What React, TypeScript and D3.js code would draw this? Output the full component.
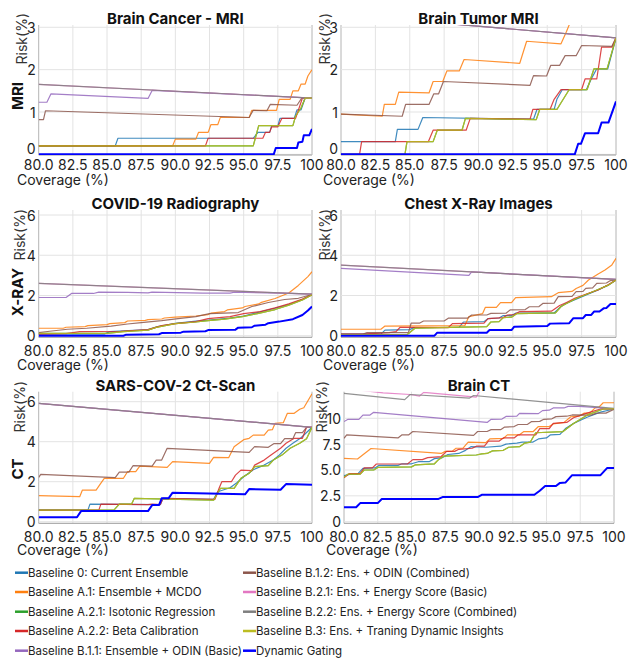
import React from "react";
import * as d3 from "d3";

type Pt = [number, number];

const seriesNames = [
  "Baseline 0: Current Ensemble",
  "Baseline A.1: Ensemble + MCDO",
  "Baseline A.2.1: Isotonic Regression",
  "Baseline A.2.2: Beta Calibration",
  "Baseline B.1.1: Ensemble + ODIN (Basic)",
  "Baseline B.1.2: Ens. + ODIN (Combined)",
  "Baseline B.2.1: Ens. + Energy Score (Basic)",
  "Baseline B.2.2: Ens. + Energy Score (Combined)",
  "Baseline B.3: Ens. + Traning Dynamic Insights",
  "Dynamic Gating",
];
const seriesColors = ["#1f77b4", "#ff7f0e", "#2ca02c", "#d62728", "#9467bd", "#8c564b", "#e377c2", "#7f7f7f", "#bcbd22", "#0000ff"];

const coverageTicks = [80, 82.5, 85, 87.5, 90, 92.5, 95, 97.5, 100];
const coverageTickLabels = ["80.0", "82.5", "85.0", "87.5", "90.0", "92.5", "95.0", "97.5", "100"];

// ---------- Brain Cancer - MRI ----------
const bcB3: Pt[] = [[80,0.2],[95.7,0.2],[96.1,0.68],[98.6,0.68],[98.8,0.9],[99.2,1.1],[99.5,1.33],[100,1.33]];
const bcGray: Pt[] = [[80,1.65],[100,1.33]];
const brainCancerMRI: Pt[][] = [
  [[80,0.2],[85.6,0.2],[85.8,0.38],[95.7,0.38],[96.05,0.52],[96.9,0.52],[97.05,0.67],[97.5,0.67],[97.65,0.85],[98.7,0.85],[98.9,1.05],[99.2,1.05],[99.5,1.33],[100,1.33]],
  [[80,0.2],[89.8,0.2],[90.0,0.36],[91.5,0.36],[91.7,0.52],[92.4,0.52],[92.6,0.7],[93.1,0.7],[93.3,0.88],[95.4,0.87],[95.6,1.04],[97.4,1.04],[97.6,1.3],[98.4,1.3],[98.6,1.5],[99.0,1.5],[99.2,1.66],[99.5,1.66],[99.7,1.85],[100,2.0]],
  bcB3,
  [[80,0.2],[92.2,0.2],[92.4,0.38],[96.4,0.38],[96.6,0.52],[96.9,0.52],[97.05,0.65],[97.5,0.65],[97.8,0.85],[98.8,0.85],[99.3,1.33],[100,1.33]],
  [[80,1.23],[80.6,1.23],[80.9,1.43],[88.0,1.32],[88.3,1.51],[100,1.33]],
  [[80,0.82],[80.35,0.82],[80.5,1.03],[95.4,0.87],[95.7,1.04],[96.7,1.03],[96.95,1.18],[98.9,1.16],[99.25,1.33],[100,1.33]],
  bcGray,
  bcGray,
  bcB3,
  [[80,0],[97.2,0],[97.35,0.15],[98.9,0.15],[99.0,0.28],[99.3,0.3],[99.4,0.45],[99.8,0.45],[100,0.6]],
];

// ---------- Brain Tumor MRI ----------
const btB3: Pt[] = [[80,0],[84.65,0],[84.8,0.3],[86.7,0.3],[87.0,0.57],[88.8,0.57],[89.05,0.85],[94.2,0.82],[94.45,1.06],[95.7,1.06],[96.6,1.53],[97.9,1.53],[98.4,2.02],[99.35,2.02],[100,2.75]];
const btGray: Pt[] = [[80,3.3],[100,2.75]];
const brainTumorMRI: Pt[][] = [
  [[80,0.3],[83.95,0.3],[84.1,0.59],[85.6,0.59],[85.95,0.87],[94.0,0.83],[94.25,1.06],[95.5,1.06],[95.7,1.3],[96.1,1.53],[97.85,1.53],[98.2,1.78],[98.6,2.02],[99.4,2.02],[100,2.75]],
  [[80,0.95],[83.0,0.9],[83.15,1.18],[83.95,1.18],[84.2,1.47],[86.4,1.45],[86.7,1.72],[87.4,1.72],[87.7,1.97],[88.6,1.97],[88.95,2.24],[93.0,2.15],[93.5,2.67],[96.0,2.61],[96.4,2.9],[96.9,3.3],[97.5,3.6],[100,4.0]],
  btB3,
  [[80,0],[81.35,0],[81.5,0.3],[86.35,0.3],[86.7,0.57],[89.1,0.57],[89.4,0.85],[93.75,0.83],[93.95,1.06],[95.2,1.06],[95.5,1.3],[96.0,1.53],[97.5,1.53],[97.75,1.78],[98.6,1.78],[98.95,2.53],[99.7,2.53],[100,2.75]],
  btGray,
  [[80,0.95],[84.45,0.9],[84.7,1.18],[86.4,1.18],[86.75,1.43],[87.1,1.43],[87.45,1.72],[93.75,1.63],[94.0,1.86],[94.95,1.85],[95.25,2.1],[95.9,2.1],[96.3,2.33],[97.1,2.33],[97.5,2.57],[99.7,2.55],[100,2.75]],
  btGray,
  btGray,
  btB3,
  [[80,0],[97.0,0],[97.25,0.25],[97.45,0.25],[97.75,0.5],[98.7,0.5],[98.95,0.75],[99.45,0.75],[100,1.25]],
];

// ---------- COVID-19 Radiography ----------
const cvB3: Pt[] = [[80,0.12],[85,0.12],[86.2,0.2],[88,0.28],[88.6,0.41],[90,0.6],[91.5,0.68],[92.4,0.75],[93.6,0.82],[94.9,0.95],[96.0,1.1],[97.3,1.3],[98.3,1.52],[99.3,1.78],[100,2.03]];
const cvGray: Pt[] = [[80,2.6],[100,2.07]];
const covidRadiography: Pt[][] = [
  [[80,0.08],[84.8,0.08],[85.2,0.2],[88.0,0.3],[88.7,0.45],[90.0,0.62],[91.5,0.72],[92.5,0.78],[94.0,0.88],[95.0,0.98],[96.0,1.15],[97.2,1.35],[98.3,1.55],[99.3,1.8],[100,2.05]],
  [[80,0.37],[81.8,0.37],[82.0,0.42],[83.4,0.45],[83.6,0.5],[85.0,0.55],[85.2,0.6],[86.3,0.65],[86.5,0.73],[87.8,0.76],[88.0,0.8],[89.0,0.83],[89.2,0.88],[90.0,0.92],[91.5,0.98],[92.4,1.05],[92.6,1.12],[93.6,1.2],[93.8,1.28],[94.9,1.38],[95.1,1.45],[96.1,1.58],[96.3,1.66],[97.3,1.85],[98.3,2.12],[99.0,2.5],[99.7,2.94],[100,3.18]],
  cvB3,
  [[80,0.08],[82.0,0.1],[83.0,0.2],[86.0,0.22],[88.0,0.3],[89.0,0.5],[90.0,0.6],[91.5,0.7],[92.4,0.85],[94.0,0.95],[95.0,1.1],[96.2,1.2],[97.3,1.38],[98.3,1.58],[99.3,1.82],[100,2.05]],
  [[80,1.9],[82.0,1.9],[82.4,2.1],[84.0,2.1],[84.4,2.17],[86.5,2.15],[88.0,2.13],[88.3,2.17],[92.0,2.12],[94.0,2.12],[94.3,2.16],[97.5,2.12],[100,2.07]],
  [[80,0.15],[80.8,0.22],[82.1,0.32],[83.5,0.37],[85.3,0.48],[86.5,0.58],[87.5,0.65],[89.0,0.75],[90.2,0.85],[91.5,0.95],[92.5,1.1],[94.6,1.15],[95.6,1.45],[96.8,1.65],[98.0,1.8],[99.0,1.86],[100,2.05]],
  cvGray,
  cvGray,
  cvB3,
  [[80,0],[86.2,0],[86.4,0.05],[88.8,0.07],[89.0,0.13],[90.4,0.15],[90.6,0.2],[92.2,0.22],[92.4,0.28],[94.4,0.3],[94.6,0.4],[95.6,0.42],[95.8,0.5],[96.6,0.55],[96.8,0.62],[97.6,0.7],[98.6,0.82],[99.3,1.03],[99.7,1.25],[100,1.45]],
];

// ---------- Chest X-Ray Images ----------
const cxB3: Pt[] = [[80,0.05],[84.8,0.05],[85.4,0.38],[90.6,0.45],[90.9,0.68],[91.5,0.7],[91.8,0.9],[92.4,0.92],[92.8,1.1],[95.6,1.13],[96.0,1.45],[96.4,1.6],[97.1,1.85],[98.0,2.1],[98.7,2.3],[99.4,2.5],[100,2.77]];
const cxGray: Pt[] = [[80,3.51],[100,2.8]];
const chestXRay: Pt[][] = [
  [[80,0.08],[82.9,0.08],[83.2,0.28],[85.0,0.3],[85.3,0.4],[88.6,0.42],[88.9,0.68],[90.4,0.7],[90.7,0.85],[91.5,0.88],[91.8,1.0],[92.4,1.0],[92.7,1.12],[95.5,1.13],[96.0,1.45],[96.4,1.62],[97.1,1.82],[98.0,2.08],[98.7,2.28],[99.4,2.5],[100,2.77]],
  [[80,0.32],[82.9,0.32],[83.2,0.48],[89.0,0.5],[89.3,0.95],[90.3,1.1],[90.5,1.41],[91.3,1.41],[91.6,1.64],[92.4,1.64],[92.7,1.89],[95.3,1.94],[95.8,2.14],[96.8,2.2],[97.1,2.35],[97.6,2.5],[98.0,2.77],[98.7,3.07],[99.2,3.27],[99.7,3.52],[100,3.85]],
  cxB3,
  [[80,0.08],[81.5,0.08],[83.5,0.15],[84.0,0.2],[84.3,0.42],[87.8,0.4],[88.1,0.6],[90.4,0.62],[90.7,0.85],[91.8,0.9],[92.1,1.03],[92.6,1.05],[93.0,1.2],[95.3,1.22],[95.9,1.5],[96.4,1.65],[97.0,1.86],[98.0,2.11],[98.7,2.27],[99.4,2.52],[100,2.77]],
  [[80,3.35],[89.3,3.0],[89.5,3.17],[100,2.8]],
  [[80,0.08],[81.6,0.08],[81.9,0.15],[84.9,0.15],[85.1,0.62],[85.7,0.62],[86.0,0.73],[87.5,0.73],[87.8,0.87],[89.2,0.87],[89.5,1.03],[90.6,1.03],[90.9,1.11],[92.0,1.12],[92.3,1.28],[93.4,1.3],[93.7,1.44],[94.4,1.45],[94.7,1.61],[95.5,1.62],[95.8,1.94],[96.8,1.95],[97.1,2.19],[97.6,2.2],[97.8,2.35],[98.3,2.38],[98.6,2.6],[99.3,2.62],[99.6,2.74],[100,2.77]],
  cxGray,
  cxGray,
  cxB3,
  [[80,0],[86.8,0],[87.0,0.15],[90.6,0.15],[90.8,0.28],[92.4,0.28],[92.6,0.45],[95.0,0.48],[95.2,0.6],[96.6,0.62],[96.9,0.87],[97.6,0.87],[97.8,1.03],[98.2,1.03],[98.4,1.2],[98.8,1.2],[99.1,1.36],[99.3,1.38],[99.6,1.58],[100,1.58]],
];

// ---------- SARS-COV-2 Ct-Scan ----------
const scB3: Pt[] = [[80,0.58],[85.5,0.58],[85.9,0.88],[86.8,0.88],[87.0,1.17],[92.8,1.08],[93.3,1.67],[94.3,1.67],[94.8,2.17],[95.4,2.42],[95.8,2.75],[96.8,2.8],[97.2,3.1],[97.8,3.33],[98.4,3.67],[99.1,3.92],[99.6,4.15],[100,4.72]];
const scGray: Pt[] = [[80,5.92],[100,4.72]];
const sarsCovCt: Pt[][] = [
  [[80,0.58],[83.6,0.58],[83.75,0.88],[88.9,0.85],[89.1,1.17],[92.8,1.12],[93.1,1.5],[94.0,1.7],[94.5,1.95],[95.0,2.25],[95.7,2.6],[96.5,2.83],[97.2,3.1],[97.6,3.33],[98.1,3.67],[98.6,3.92],[99.2,4.2],[100,4.72]],
  [[80,1.3],[83.0,1.25],[83.2,1.58],[84.2,1.58],[84.5,1.88],[84.8,2.17],[86.2,2.17],[86.5,2.5],[87.1,2.5],[87.4,2.78],[89.4,2.72],[89.8,3.0],[92.5,2.92],[92.8,3.22],[93.9,3.2],[94.3,3.75],[95.0,4.1],[95.4,4.17],[95.7,4.33],[96.5,4.33],[96.8,4.58],[97.1,4.6],[97.3,4.92],[97.9,4.95],[98.2,5.42],[98.7,5.42],[99.1,5.62],[99.4,5.7],[100,6.4]],
  scB3,
  [[80,0.58],[84.4,0.58],[84.55,0.88],[88.0,0.85],[88.3,0.88],[88.9,0.86],[89.1,1.17],[92.9,1.12],[93.2,1.67],[93.4,2.0],[94.1,2.0],[94.4,2.33],[94.8,2.58],[95.6,2.55],[95.8,2.83],[96.5,3.08],[97.0,3.33],[97.7,3.67],[98.1,3.92],[98.7,4.17],[99.3,4.17],[99.6,4.72],[100,4.72]],
  scGray,
  [[80,2.22],[80.15,2.37],[85.6,2.2],[85.9,2.48],[86.6,2.48],[86.9,2.8],[88.3,2.78],[88.6,3.08],[89.0,3.08],[89.4,3.67],[95.4,3.47],[95.8,3.75],[96.8,3.72],[97.2,3.9],[97.7,3.9],[98.0,4.15],[98.6,4.15],[98.8,4.45],[99.3,4.45],[99.6,4.72],[100,4.72]],
  scGray,
  scGray,
  scB3,
  [[80,0.22],[82.8,0.22],[83.1,0.53],[88.0,0.53],[88.3,0.83],[88.8,0.83],[89.0,1.17],[89.5,1.17],[89.8,1.45],[95.1,1.37],[95.4,1.63],[97.7,1.6],[98.1,1.88],[100,1.85]],
];

// ---------- Brain CT ----------
const ctB3: Pt[] = [[80,4.3],[80.3,4.6],[81.2,4.6],[81.5,5.0],[82.2,5.0],[82.5,5.25],[85.0,5.3],[85.3,5.5],[86.7,5.6],[87.0,6.0],[87.4,6.35],[89.8,6.45],[90.2,6.55],[90.6,6.6],[91.0,6.85],[91.8,6.9],[92.2,7.2],[93.0,7.25],[93.4,7.6],[93.8,7.7],[94.2,8.6],[96.2,8.7],[97.0,9.5],[98.0,10.3],[99.2,10.9],[100,10.9]];
const brainCT: Pt[][] = [
  [[80,4.45],[80.5,4.6],[81.0,4.6],[81.4,5.15],[82.3,5.2],[82.6,5.45],[84.0,5.45],[84.3,5.6],[85.0,5.6],[85.5,5.8],[86.3,5.8],[86.7,6.1],[87.3,6.2],[87.7,6.5],[88.5,6.6],[89.0,6.9],[89.4,7.25],[90.5,7.2],[91.6,7.3],[92.0,7.5],[92.8,7.6],[93.2,7.7],[94.0,7.7],[94.4,8.0],[95.0,8.1],[95.3,8.4],[96.0,8.45],[96.4,9.0],[97.0,9.5],[98.0,10.1],[99.0,10.6],[100,10.9]],
  [[80,6.13],[81.0,6.06],[82.0,7.08],[87.2,6.6],[87.5,6.8],[88.0,6.8],[88.3,7.1],[88.8,7.1],[89.2,7.7],[90.5,7.65],[90.8,8.0],[91.8,8.05],[92.1,8.4],[93.0,8.4],[93.3,8.7],[94.0,8.7],[94.4,9.2],[95.2,9.2],[95.5,9.45],[96.3,9.6],[96.8,10.15],[97.4,10.2],[97.8,10.5],[98.2,10.5],[98.6,11.0],[98.9,11.1],[99.2,11.5],[100,11.5]],
  ctB3,
  [[80,4.25],[80.4,4.65],[81.2,4.65],[81.5,5.2],[82.1,5.2],[82.4,5.58],[84.7,5.58],[85.1,6.0],[85.8,6.0],[86.2,6.2],[87.2,6.3],[87.6,6.8],[88.2,6.8],[88.5,7.0],[89.5,7.1],[89.8,7.3],[90.4,7.3],[90.7,7.8],[91.5,7.8],[91.8,8.1],[92.6,8.1],[92.9,8.4],[94.2,8.4],[94.5,9.0],[95.2,9.0],[95.5,9.5],[96.5,9.6],[97.0,10.05],[98.0,10.5],[99.0,10.9],[100,10.9]],
  [[80,9.68],[80.3,9.9],[81.1,9.9],[81.4,10.3],[81.9,10.3],[82.2,10.58],[90.6,9.6],[90.9,9.9],[91.7,9.92],[92.0,10.18],[92.8,10.2],[93.0,10.48],[94.4,10.45],[94.7,10.74],[95.2,10.78],[95.5,11.0],[96.3,11.0],[96.6,11.15],[97.4,11.15],[98.0,11.1],[99.0,11.0],[100,10.87]],
  [[80,8.06],[80.2,8.4],[84.0,8.1],[84.3,8.4],[84.8,8.4],[85.1,8.72],[89.6,8.35],[89.9,8.72],[90.6,8.72],[90.9,8.9],[91.6,8.9],[91.9,9.15],[92.6,9.2],[92.9,9.4],[93.6,9.42],[93.9,9.68],[94.5,9.7],[94.8,9.9],[95.4,9.95],[95.7,10.16],[96.5,10.2],[96.9,10.32],[98.3,10.3],[98.7,10.5],[99.4,10.5],[100,10.87]],
  [[80,12.9],[82.9,12.45],[84.9,12.3],[85.6,12.15],[85.9,12.5],[89.8,12.05],[90.1,12.8],[100,12.8]],
  [[80,12.4],[84.5,11.8],[84.9,12.3],[89.3,11.95],[89.6,12.2],[100,10.95]],
  ctB3,
  [[80,1.4],[80.9,1.4],[81.2,1.8],[82.5,1.8],[82.8,2.2],[87.0,2.2],[87.3,2.38],[89.9,2.38],[90.2,2.6],[94.1,2.6],[94.5,3.0],[94.9,3.45],[95.7,3.45],[96.0,3.75],[96.4,3.78],[96.9,4.5],[99.0,4.5],[99.5,5.2],[100,5.2]],
];

const yTicksSmall = [0, 1, 2, 3];
const yTicksMid = [0, 2, 4, 6];
const yTicksCT = [0, 2.5, 5, 7.5, 10];
const yTickLabelsCT = ["0", "2.5", "5.0", "7.5", "10"];

const rowNames = ["MRI", "X-RAY", "CT"];

interface PanelCfg {
  title: string;
  data: Pt[][];
  yTicks: number[];
  yLabels: string[];
  yDomain: [number, number];
  left: number; right: number;
  row: number;
  zeroLift: number;
  riskX: number;
}

const rows = [
  { top: 25, bottom: 155, tickBase: 170, covBase: 185, riskTop: 13, labelY: 96 },
  { top: 210, bottom: 337.3, tickBase: 356, covBase: 370, riskTop: 209, labelY: 292 },
  { top: 391.7, bottom: 523.3, tickBase: 541.5, covBase: 555, riskTop: 381, labelY: 469 },
];

const panels: PanelCfg[] = [
  { title: "Brain Cancer - MRI", data: brainCancerMRI, yTicks: yTicksSmall, yLabels: yTicksSmall.map(String), yDomain: [-0.015, 3.054], left: 38.7, right: 312, row: 0, zeroLift: 6, riskX: 21 },
  { title: "Brain Tumor MRI", data: brainTumorMRI, yTicks: yTicksSmall, yLabels: yTicksSmall.map(String), yDomain: [-0.015, 3.054], left: 341, right: 616, row: 0, zeroLift: 6, riskX: 324 },
  { title: "COVID-19 Radiography", data: covidRadiography, yTicks: yTicksMid, yLabels: yTicksMid.map(String), yDomain: [-0.08, 6.25], left: 38.7, right: 312, row: 1, zeroLift: 0, riskX: 19.5 },
  { title: "Chest X-Ray Images", data: chestXRay, yTicks: yTicksMid, yLabels: yTicksMid.map(String), yDomain: [-0.08, 6.25], left: 341, right: 616, row: 1, zeroLift: 0, riskX: 324 },
  { title: "SARS-COV-2 Ct-Scan", data: sarsCovCt, yTicks: yTicksMid, yLabels: yTicksMid.map(String), yDomain: [-0.08, 6.5], left: 38.7, right: 312, row: 2, zeroLift: 0, riskX: 19.5 },
  { title: "Brain CT", data: brainCT, yTicks: yTicksCT, yLabels: yTickLabelsCT, yDomain: [-0.155, 12.57], left: 344, right: 614, row: 2, zeroLift: 0, riskX: 321 },
];

const FONT = "Inter, 'Noto Sans', sans-serif";

function Panel({ p, idx }: { p: PanelCfg; idx: number }) {
  const r = rows[p.row];
  const x = d3.scaleLinear().domain([80, 100]).range([p.left, p.right]);
  const y = d3.scaleLinear().domain(p.yDomain).range([r.bottom, r.top]);
  const line = d3.line<Pt>().x((d) => x(d[0])).y((d) => y(d[1]));
  const clipId = `clip-${idx}`;
  const isLeft = p.left < 100;
  return (
    <g>
      <defs>
        <clipPath id={clipId}>
          <rect x={p.left} y={r.top} width={p.right - p.left} height={r.bottom - r.top} />
        </clipPath>
      </defs>
      {coverageTicks.map((t) => (
        <line key={"vx" + t} x1={x(t)} x2={x(t)} y1={r.top} y2={r.bottom} stroke={t === 80 || t === 100 ? "#b4b4b4" : "#e3e3e3"} strokeWidth={1} />
      ))}
      {p.yTicks.map((t) => (
        <line key={"hy" + t} x1={p.left} x2={p.right} y1={y(t)} y2={y(t)} stroke="#e3e3e3" strokeWidth={1} />
      ))}
      <line x1={p.left} x2={p.right} y1={r.bottom} y2={r.bottom} stroke="#9a9a9a" strokeWidth={1} />
      <g clipPath={`url(#${clipId})`}>
        {p.data.map((s, i) => (
          <path key={i} d={line(s) || ""} fill="none" stroke={seriesColors[i]} strokeWidth={i === 9 ? 2 : 1.2} strokeOpacity={i === 9 ? 1 : 0.85} strokeLinejoin="round" />
        ))}
      </g>
      {coverageTicks.map((t, i) => (
        <text key={"xl" + t} x={x(t)} y={r.tickBase} textAnchor="middle" fontSize={14} fill="#222">{coverageTickLabels[i]}</text>
      ))}
      {p.yTicks.map((t, i) => (
        <text key={"yl" + t} x={p.left - 3} y={y(t) - (t === 0 ? p.zeroLift : 0)} textAnchor="end" dominantBaseline="central" fontSize={14} fill="#222">{p.yLabels[i]}</text>
      ))}
      <text x={(p.left + p.right) / 2} y={r.top - 1} textAnchor="middle" fontSize={15} fontWeight="bold" fill="#111">{p.title}</text>
      <text x={isLeft ? 17 : p.left - 18} y={r.covBase} fontSize={14} fill="#222">Coverage (%)</text>
      <text transform={`translate(${p.riskX},${r.riskTop}) rotate(-90)`} textAnchor="end" dominantBaseline="central" fontSize={14} fill="#333">Risk(%)</text>
    </g>
  );
}

export default function App() {
  const legendRows = [572.7, 592, 611.7, 631, 650.7];
  return (
    <svg width={635} height={658} style={{ position: "absolute", left: 0, top: 0, fontFamily: FONT }}>
      <rect x={0} y={0} width={635} height={658} fill="#fff" />
      {panels.map((p, i) => (
        <Panel key={i} p={p} idx={i} />
      ))}
      {rowNames.map((n, i) => (
        <text key={n} transform={`translate(17,${rows[i].labelY}) rotate(-90)`} textAnchor="middle" dominantBaseline="central" fontSize={15} fontWeight="bold" fill="#111">{n}</text>
      ))}
      {seriesNames.map((n, i) => {
        const col = i < 5 ? 0 : 1;
        const yy = legendRows[i % 5];
        const lx = col === 0 ? 15 : 243;
        return (
          <g key={n}>
            <line x1={lx} x2={lx + 13} y1={yy} y2={yy} stroke={seriesColors[i]} strokeWidth={2.5} />
            <text x={lx + 13} y={yy} dominantBaseline="central" fontSize={11.5} fill="#222">{n}</text>
          </g>
        );
      })}
    </svg>
  );
}
